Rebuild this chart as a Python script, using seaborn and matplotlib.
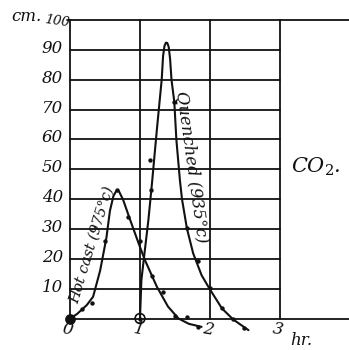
import matplotlib
matplotlib.use("Agg")
import matplotlib.pyplot as plt
import seaborn as sns
import pandas as pd

# ---- data ----
# Hot cast (975°c): observed points
hot_x = [0.0, 0.17, 0.32, 0.50, 0.67, 0.83, 1.00, 1.17, 1.33, 1.50, 1.67, 1.83]
hot_y = [0.0, 3.3, 5.2, 26.0, 43.0, 34.0, 26.0, 14.2, 8.9, 1.0, 0.5, -2.7]
# Hot cast: hand-drawn curve as traced
hot_cx = [0.0, 0.10, 0.24, 0.33, 0.43, 0.52, 0.57, 0.62, 0.66, 0.70, 0.76, 0.86, 0.98, 1.07, 1.24, 1.40, 1.55, 1.70, 1.88]
hot_cy = [0.0, 1.5, 4.5, 7.3, 16.0, 27.0, 36.0, 41.0, 42.7, 42.6, 39.7, 33.0, 25.2, 19.6, 10.7, 4.0, 0.0, -1.8, -2.8]

# Quenched (935°c): observed points
q_x = [1.00, 1.14, 1.16, 1.49, 1.67, 1.83, 2.00, 2.17, 2.33, 2.48]
q_y = [0.0, 53.0, 43.0, 72.6, 30.2, 19.4, 10.2, 3.4, -0.3, -3.3]
# Quenched: hand-drawn curve as traced
q_cx = [1.00, 1.02, 1.07, 1.12, 1.17, 1.24, 1.31, 1.33, 1.35, 1.37, 1.39, 1.41, 1.43, 1.45, 1.49, 1.52, 1.57, 1.60, 1.67, 1.76, 1.88, 1.99, 2.17, 2.33, 2.55]
q_cy = [0.0, 12.9, 23.0, 33.0, 45.0, 63.0, 80.0, 88.0, 91.3, 92.4, 92.3, 91.0, 87.0, 80.0, 72.6, 59.8, 46.4, 40.0, 30.2, 21.8, 14.5, 10.1, 3.4, -0.3, -3.9]

y_ticks = [10, 20, 30, 40, 50, 60, 70, 80, 90]
x_ticks = [0, 1, 2, 3]
x_tick_labels = ["0", "1", "2", "3"]

# ---- figure ----
sns.set_style("white")
plt.rcParams["mathtext.fontset"] = "dejavuserif"
fig = plt.figure(figsize=(3.49, 3.50), dpi=100)
ax = fig.add_axes([0, 0, 1, 1])
ax.set_xlim(-1.0, 3.986)
ax.set_ylim(-10.55, 106.7)
ax.axis("off")

ink = "#111111"
glw = 1.3

# grid box
for yv in y_ticks:
    ax.plot([0, 3], [yv, yv], color=ink, lw=glw)
ax.plot([-0.04, 3.986], [100, 100], color=ink, lw=glw)
ax.plot([0, 3.986], [0, 0], color=ink, lw=glw)
for xv in x_ticks:
    ax.plot([xv, xv], [0, 100], color=ink, lw=glw)

# curves
hot_curve = pd.DataFrame({"t": hot_cx, "h": hot_cy})
q_curve = pd.DataFrame({"t": q_cx, "h": q_cy})
sns.lineplot(data=hot_curve, x="t", y="h", sort=False, estimator=None, color=ink, lw=1.5, ax=ax)
sns.lineplot(data=q_curve, x="t", y="h", sort=False, estimator=None, color=ink, lw=1.5, ax=ax)

hot_pts = pd.DataFrame({"t": hot_x, "h": hot_y})
q_pts = pd.DataFrame({"t": q_x, "h": q_y})
sns.scatterplot(data=hot_pts, x="t", y="h", color=ink, s=10, linewidth=0, ax=ax)
sns.scatterplot(data=q_pts, x="t", y="h", color=ink, s=10, linewidth=0, ax=ax)
# origin marks
ax.scatter([hot_x[0]], [hot_y[0]], s=45, color=ink, zorder=5)
ax.scatter([q_x[0]], [q_y[0]], s=50, facecolor="none", edgecolor=ink, lw=1.2, zorder=5)

ax.set_xlabel("")
ax.set_ylabel("")

font = dict(family="DejaVu Serif", style="italic", color=ink)

# y tick labels
for yv in y_ticks:
    ax.text(-0.1, yv + 0.5, str(yv), ha="right", va="center", fontsize=12, **font)
ax.text(-0.62, 101.3, "cm.", ha="center", va="center", fontsize=12, **font)
ax.text(-0.19, 99.5, "100", ha="center", va="center", fontsize=9.5, rotation=-8, **font)

# x tick labels
xpos = [-0.03, 0.99, 1.97, 2.97]
ypos = [-3.8, -3.8, -3.8, -3.8]
for xv, yv, lab in zip(xpos, ypos, x_tick_labels):
    ax.text(xv, yv, lab, ha="center", va="center", fontsize=12, rotation=-10, **font)
ax.text(3.3, -7.3, "hr.", ha="center", va="center", fontsize=12, **font)

# curve labels
ax.text(0.31, 24.6, "Hot cast (975°c)", ha="center", va="center", fontsize=10.5,
        rotation=73, **font)
ax.text(1.74, 50.7, "Quenched (935°c)", ha="center", va="center", fontsize=12,
        rotation=-82, **font)
ax.text(3.51, 50.8, r"$\mathit{CO}_{\mathit{2}}$.", ha="center", va="center", fontsize=15, **font)

fig.savefig("out.png", dpi=100, facecolor="white")
